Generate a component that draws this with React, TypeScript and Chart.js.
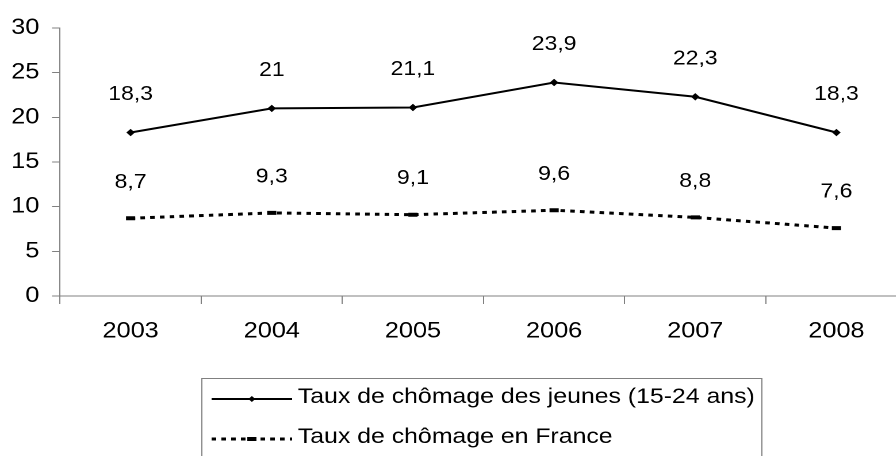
import { useEffect, useRef } from "react";
import { Chart, registerables } from "chart.js";

Chart.register(...registerables);

// ---- data ----
const years = ["2003", "2004", "2005", "2006", "2007", "2008"];
const jeunes = [18.3, 21, 21.1, 23.9, 22.3, 18.3];
const france = [8.7, 9.3, 9.1, 9.6, 8.8, 7.6];
const seriesNames = [
  "Taux de chômage des jeunes (15-24 ans)",
  "Taux de chômage en France",
];
const yTicks = [0, 5, 10, 15, 20, 25, 30];

// ---- layout constants (internal coordinates, stretched horizontally by SX) ----
const SX = 1.15;
const W = 800;
const H = 456;
const FONT = "'Liberation Sans', Arial, Helvetica, sans-serif";
const AXIS = "#808080";

const labelPlugin = {
  id: "valueLabels",
  afterDatasetsDraw(chart: any) {
    const ctx = chart.ctx;
    ctx.save();
    ctx.font = `20px ${FONT}`;
    ctx.fillStyle = "#000";
    ctx.textAlign = "center";
    ctx.textBaseline = "middle";
    const offsets = [38, 36];
    chart.data.datasets.forEach((ds: any, i: number) => {
      const meta = chart.getDatasetMeta(i);
      meta.data.forEach((pt: any, j: number) => {
        const v = ds.data[j];
        ctx.fillText(String(v).replace(".", ","), pt.x, pt.y - offsets[i]);
      });
    });
    ctx.restore();
  },
};

const legendPlugin = {
  id: "boxLegend",
  afterDraw(chart: any) {
    const ctx = chart.ctx;
    ctx.save();
    const left = 175.5;
    const right = 662.5;
    const top = 378.5;
    ctx.strokeStyle = AXIS;
    ctx.lineWidth = 1;
    ctx.strokeRect(left, top, right - left, 120);
    const lineY = [399, 439];
    const textY = [397, 437];
    const x0 = 184;
    const x1 = 254;
    const xm = (x0 + x1) / 2;
    chart.data.datasets.forEach((ds: any, i: number) => {
      ctx.save();
      ctx.strokeStyle = ds.borderColor;
      ctx.lineWidth = ds.borderWidth;
      ctx.setLineDash(ds.borderDash || []);
      ctx.beginPath();
      ctx.moveTo(x0, lineY[i]);
      ctx.lineTo(x1, lineY[i]);
      ctx.stroke();
      ctx.setLineDash([]);
      ctx.fillStyle = "#000";
      if (ds.pointStyle === "rectRot") {
        const r = ds.pointRadius;
        ctx.beginPath();
        ctx.moveTo(xm, lineY[i] - r);
        ctx.lineTo(xm + r, lineY[i]);
        ctx.lineTo(xm, lineY[i] + r);
        ctx.lineTo(xm - r, lineY[i]);
        ctx.closePath();
        ctx.fill();
      } else {
        const r = ds.pointRadius;
        ctx.lineWidth = ds.pointBorderWidth;
        ctx.beginPath();
        ctx.moveTo(xm - r, lineY[i]);
        ctx.lineTo(xm + r, lineY[i]);
        ctx.stroke();
      }
      ctx.restore();
      ctx.font = `21.6px ${FONT}`;
      ctx.fillStyle = "#000";
      ctx.textAlign = "left";
      ctx.textBaseline = "middle";
      ctx.fillText(ds.label, 259, textY[i]);
    });
    ctx.restore();
  },
};

export default function App() {
  const ref = useRef<HTMLCanvasElement>(null);

  useEffect(() => {
    if (!ref.current) return;
    const chart = new Chart(ref.current, {
      type: "line",
      data: {
        labels: years,
        datasets: [
          {
            label: seriesNames[0],
            data: jeunes,
            borderColor: "#000",
            backgroundColor: "#000",
            borderWidth: 2,
            pointStyle: "rectRot",
            pointRadius: 3,
            pointBorderWidth: 1,
            pointBackgroundColor: "#000",
            pointBorderColor: "#000",
            tension: 0,
          },
          {
            label: seriesNames[1],
            data: france,
            borderColor: "#000",
            backgroundColor: "#000",
            borderWidth: 3,
            borderDash: [4, 4.5],
            pointStyle: "line",
            pointRadius: 4,
            pointBorderWidth: 4,
            pointBorderColor: "#000",
            pointBackgroundColor: "#000",
            tension: 0,
          },
        ],
      },
      options: {
        responsive: false,
        animation: false,
        devicePixelRatio: 2,
        layout: { padding: { left: 0, right: W - 788.7, top: 28, bottom: 110 } },
        plugins: {
          legend: { display: false },
          tooltip: { enabled: false },
        },
        scales: {
          x: {
            offset: true,
            grid: {
              offset: true,
              drawOnChartArea: false,
              drawTicks: true,
              tickLength: 8,
              color: AXIS,
            },
            border: { color: AXIS, width: 1 },
            ticks: {
              color: "#000",
              font: { family: FONT, size: 22 },
              padding: 14,
              maxRotation: 0,
              autoSkip: false,
            },
            afterFit: (s: any) => {
              s.height = 50;
            },
          },
          y: {
            min: 0,
            max: 30,
            ticks: {
              color: "#000",
              font: { family: FONT, size: 22 },
              padding: 11,
            },
            afterBuildTicks: (s: any) => {
              s.ticks = yTicks.map((v) => ({ value: v }));
            },
            grid: {
              drawOnChartArea: false,
              drawTicks: true,
              tickLength: 7,
              color: AXIS,
            },
            border: { color: AXIS, width: 1 },
            afterFit: (s: any) => {
              s.width = 52.2;
            },
          },
        },
      },
      plugins: [labelPlugin, legendPlugin],
    } as any);
    return () => chart.destroy();
  }, []);

  return (
    <div
      style={{
        position: "fixed",
        left: 0,
        top: 0,
        width: 896,
        height: 456,
        overflow: "hidden",
        background: "#fff",
      }}
    >
      <div
        style={{
          width: W,
          height: H,
          transform: `scaleX(${SX})`,
          transformOrigin: "0 0",
        }}
      >
        <canvas ref={ref} width={W} height={H} />
      </div>
    </div>
  );
}
